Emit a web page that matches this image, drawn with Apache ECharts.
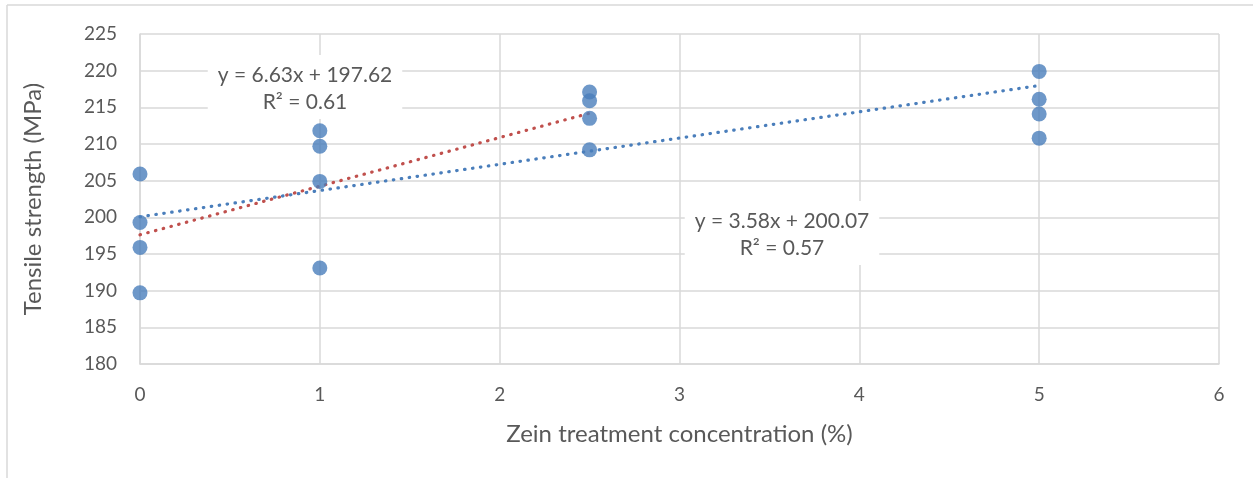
<!DOCTYPE html>
<html>
<head>
<meta charset="utf-8">
<script src="https://cdn.jsdelivr.net/npm/echarts@6/dist/echarts.min.js"></script>
<style>
  html, body { margin: 0; padding: 0; background: #fff; }
  #chart { width: 1253px; height: 478px; }
</style>
</head>
<body>
<div id="chart"></div>
<script>
// Zein treatment concentration (%) and measured tensile strength (MPa)
const concentration = [0, 0, 0, 0, 1, 1, 1, 1, 2.5, 2.5, 2.5, 2.5, 5, 5, 5, 5];
const tensile = [205.9, 199.3, 195.9, 189.7, 211.8, 209.7, 204.9, 193.1,
                 217.1, 215.9, 213.5, 209.2, 219.9, 216.1, 214.1, 210.8];

// Linear trendlines: [slope, intercept, R², x start, x end]
const fitLow = [6.63, 197.62, 0.61, 0, 2.5];
const fitAll = [3.58, 200.07, 0.57, 0, 5];

const xTicks = [0, 1, 2, 3, 4, 5, 6];
const yTicks = [180, 185, 190, 195, 200, 205, 210, 215, 220, 225];

const FONT = 'Lato, "Open Sans", sans-serif';
const TXT = '#595959';
const GRID = '#d9d9d9';
const BLUE = '#4a7ebb';
const RED = '#c0504d';

function lineOf(fit) {
  return [fit[3], fit[4]].map(x => [x, fit[0] * x + fit[1]]);
}
function eqText(fit) {
  return 'y = ' + fit[0].toFixed(2) + 'x + ' + fit[1].toFixed(2) + '\nR² = ' + fit[2].toFixed(2);
}
// Equation box: white background that hides the gridlines behind it
function eqLabel(fit, cx, top) {
  return {
    type: 'text', x: cx, y: top, z: 100,
    style: {
      text: eqText(fit), fontFamily: FONT, fontSize: 21, fill: TXT,
      align: 'center', verticalAlign: 'top', lineHeight: 27,
      backgroundColor: '#fff', padding: [7, 10, 3, 10]
    }
  };
}

const chart = echarts.init(document.getElementById('chart'));
chart.setOption({
  animation: false,
  backgroundColor: '#fff',
  grid: { left: 140, right: 34, top: 34, bottom: 114 },
  xAxis: {
    type: 'value',
    min: xTicks[0], max: xTicks[xTicks.length - 1], interval: 1,
    name: 'Zein treatment concentration (%)',
    nameLocation: 'middle', nameGap: 58,
    nameTextStyle: { fontFamily: FONT, fontSize: 24, color: TXT },
    axisLine: { show: true, lineStyle: { color: GRID, width: 1.5 } },
    axisTick: { show: false },
    axisLabel: { fontFamily: FONT, fontSize: 19, color: TXT, margin: 21 },
    splitLine: { show: true, lineStyle: { color: GRID, width: 1.5 } }
  },
  yAxis: {
    type: 'value',
    min: yTicks[0], max: yTicks[yTicks.length - 1], interval: 5,
    name: 'Tensile strength (MPa)',
    nameLocation: 'middle', nameGap: 95, nameRotate: 90,
    nameTextStyle: { fontFamily: FONT, fontSize: 24, color: TXT },
    axisLine: { show: true, lineStyle: { color: GRID, width: 1.5 } },
    axisTick: { show: false },
    axisLabel: { fontFamily: FONT, fontSize: 19, color: TXT, margin: 23 },
    splitLine: { show: true, lineStyle: { color: GRID, width: 1.5 } }
  },
  graphic: [
    { type: 'line', shape: { x1: 7, y1: 5, x2: 1253, y2: 5 }, style: { stroke: GRID, lineWidth: 1.5 }, z: 0 },
    { type: 'line', shape: { x1: 7, y1: 5, x2: 7, y2: 478 }, style: { stroke: GRID, lineWidth: 1.5 }, z: 0 },
    eqLabel(fitLow, 305, 55),
    eqLabel(fitAll, 782, 201)
  ],
  series: [
    {
      type: 'line', data: lineOf(fitAll), symbol: 'none', z: 3,
      lineStyle: { color: BLUE, width: 3.2, type: [0.5, 7.5], cap: 'round' }
    },
    {
      type: 'line', data: lineOf(fitLow), symbol: 'none', z: 4,
      lineStyle: { color: RED, width: 3.2, type: [0.5, 7.5], cap: 'round' }
    },
    {
      type: 'scatter', z: 5,
      data: concentration.map((x, i) => [x, tensile[i]]),
      symbol: 'circle', symbolSize: 15,
      itemStyle: { color: BLUE }
    }
  ]
});
</script>
</body>
</html>
